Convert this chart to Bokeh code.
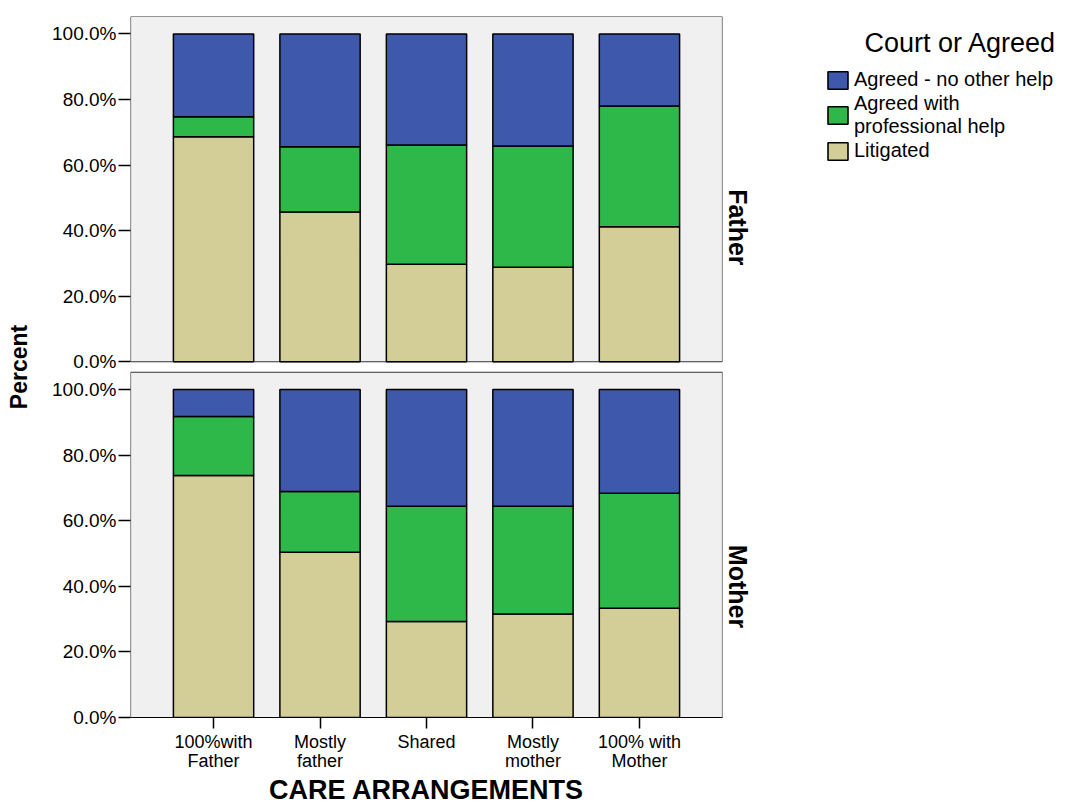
import math
from bokeh.plotting import figure
from bokeh.layouts import row
from bokeh.models import (ColumnDataSource, Range1d, FixedTicker, Legend,
                          LegendItem, Label, LinearAxis)
from bokeh.embed import file_html
from bokeh.resources import INLINE

# ---------------- data ----------------
categories = ["100%with\nFather", "Mostly\nfather", "Shared",
              "Mostly\nmother", "100% with\nMother"]
panels = ["Father", "Mother"]
series = ["Agreed - no other help", "Agreed with\nprofessional help", "Litigated"]

father_litigated = [68.6, 45.7, 29.7, 28.8, 41.2]
father_professional = [6.1, 19.9, 36.4, 37.0, 36.8]
father_no_help = [25.3, 34.4, 33.9, 34.2, 22.0]

mother_litigated = [73.8, 50.4, 29.3, 31.6, 33.3]
mother_professional = [18.0, 18.5, 35.1, 32.8, 35.1]
mother_no_help = [8.2, 31.1, 35.6, 35.6, 31.6]

y_ticks = [0, 20, 40, 60, 80, 100]
y_tick_labels = ["0.0%", "20.0%", "40.0%", "60.0%", "80.0%", "100.0%"]

legend_title = "Court or Agreed"
x_title = "CARE ARRANGEMENTS"
y_title = "Percent"

# ---------------- styles ----------------
COL_NO_HELP = "#3E59AC"
COL_PROF = "#2EB84A"
COL_LIT = "#D3CE98"
SERIES_COLORS = [COL_NO_HELP, COL_PROF, COL_LIT]
PANEL_BG = "#F0F0F0"
FONT = "Liberation Sans"

PANEL_SPAN = 105.3     # data units of each panel box
PANEL_STEP = 108.5     # offset between panel baselines
BAR_W = 0.754
X_PAD = 0.78

H = 812
W1 = 768
W2 = 305

n = len(categories)
xs = list(range(1, n + 1))

p = figure(width=W1, height=H, output_backend="svg", toolbar_location=None,
           x_range=Range1d(1 - X_PAD, n + X_PAD),
           y_range=Range1d(0, PANEL_STEP + PANEL_SPAN),
           min_border_left=130, min_border_right=44, min_border_top=16,
           min_border_bottom=95)
p.outline_line_color = None
p.background_fill_color = "white"
p.border_fill_color = "white"
p.xgrid.visible = False
p.ygrid.visible = False

panel_data = {
    "Father": (father_litigated, father_professional, father_no_help, PANEL_STEP),
    "Mother": (mother_litigated, mother_professional, mother_no_help, 0.0),
}

for name in panels:
    lit, prof, nohelp, off = panel_data[name]
    p.quad(left=[1 - X_PAD], right=[n + X_PAD], bottom=[off], top=[off + PANEL_SPAN],
           fill_color=PANEL_BG, line_color="#333333", line_width=1.2)
    b0 = [off] * n
    t0 = [off + a for a in lit]
    t1 = [off + a + b for a, b in zip(lit, prof)]
    t2 = [off + a + b + c for a, b, c in zip(lit, prof, nohelp)]
    src = ColumnDataSource(dict(x=xs, b0=b0, t0=t0, t1=t1, t2=t2))
    p.vbar(x="x", bottom="b0", top="t0", width=BAR_W, source=src,
           fill_color=COL_LIT, line_color="black", line_width=1.5)
    p.vbar(x="x", bottom="t0", top="t1", width=BAR_W, source=src,
           fill_color=COL_PROF, line_color="black", line_width=1.5)
    p.vbar(x="x", bottom="t1", top="t2", width=BAR_W, source=src,
           fill_color=COL_NO_HELP, line_color="black", line_width=1.5)

# ---- x axis ----
xa = p.xaxis[0]
xa.ticker = FixedTicker(ticks=xs)
xa.major_label_overrides = {x: c for x, c in zip(xs, categories)}
xa.minor_tick_line_color = None
xa.major_tick_in = 0
xa.major_tick_out = 11
xa.major_tick_line_color = "black"
xa.major_tick_line_width = 1.5
xa.axis_line_color = "black"
xa.axis_line_width = 1.2
xa.major_label_text_font = FONT
xa.major_label_text_font_size = "18px"
xa.major_label_text_color = "black"
xa.major_label_text_line_height = 0.95
xa.major_label_standoff = 3
xa.axis_label = x_title
xa.axis_label_text_font = FONT
xa.axis_label_text_font_size = "27px"
xa.axis_label_text_font_style = "bold"
xa.axis_label_text_color = "black"
xa.axis_label_standoff = 1
xa.axis_label_text_line_height = 1.0

# ---- y axis (both panels) ----
offsets = [panel_data[nm][3] for nm in panels]
yt, ylab = [], {}
for off in offsets:
    for t, lab in zip(y_ticks, y_tick_labels):
        yt.append(off + t)
        ylab[off + t] = lab
ya = p.yaxis[0]
ya.ticker = FixedTicker(ticks=yt)
ya.major_label_overrides = ylab
ya.minor_tick_line_color = None
ya.axis_line_color = None
ya.major_tick_in = 0
ya.major_tick_out = 12
ya.major_tick_line_color = "black"
ya.major_tick_line_width = 1.5
ya.major_label_text_font = FONT
ya.major_label_text_font_size = "19px"
ya.major_label_text_color = "black"
ya.major_label_standoff = 2
ya.axis_label = y_title
ya.axis_label_text_font = FONT
ya.axis_label_text_font_size = "23px"
ya.axis_label_text_font_style = "bold"
ya.axis_label_text_color = "black"
ya.axis_label_standoff = 17

# ---- right axis: panel names ----
centers = [off + PANEL_SPAN / 2 for off in offsets]
ra = LinearAxis(ticker=FixedTicker(ticks=centers),
                major_label_overrides={c: nm for c, nm in zip(centers, panels)})
ra.axis_line_color = None
ra.major_tick_line_color = None
ra.minor_tick_line_color = None
ra.major_label_orientation = -math.pi / 2
ra.major_label_standoff = 9
ra.major_label_text_font = FONT
ra.major_label_text_font_size = "25px"
ra.major_label_text_font_style = "bold"
ra.major_label_text_color = "black"
p.add_layout(ra, "right")

# ---------------- legend panel ----------------
q = figure(width=W2, height=H, output_backend="svg", toolbar_location=None,
           x_range=Range1d(0, 1), y_range=Range1d(0, 1),
           x_axis_type=None, y_axis_type=None,
           min_border_left=0, min_border_right=0, min_border_top=16,
           min_border_bottom=95)
q.outline_line_color = None
q.xgrid.visible = False
q.ygrid.visible = False
# invisible proxy renderers that only supply the legend swatches
proxies = [q.vbar(x=[-1], top=[-1], width=0.1, fill_color=c, line_color="black",
                  line_width=1.6, visible=False) for c in SERIES_COLORS]
legend = Legend(items=[LegendItem(label=s, renderers=[r])
                       for s, r in zip(series, proxies)],
                location=(57, 555))
legend.padding = 0
legend.margin = 0
legend.border_line_color = None
legend.background_fill_alpha = 0
legend.label_text_font = FONT
legend.label_text_font_size = "20px"
legend.label_text_color = "black"
legend.label_text_line_height = 0.92
legend.glyph_width = 25
legend.glyph_height = 22
legend.label_standoff = 4
legend.spacing = 1
legend.label_height = 20
q.add_layout(legend)

title = Label(x=192, y=675, x_units="screen", y_units="screen", text=legend_title,
              text_align="center", text_baseline="middle", text_font=FONT,
              text_font_size="27px", text_color="black")
q.add_layout(title)

layout = row(p, q, spacing=0)
open("out.html", "w").write(file_html(layout, INLINE))
